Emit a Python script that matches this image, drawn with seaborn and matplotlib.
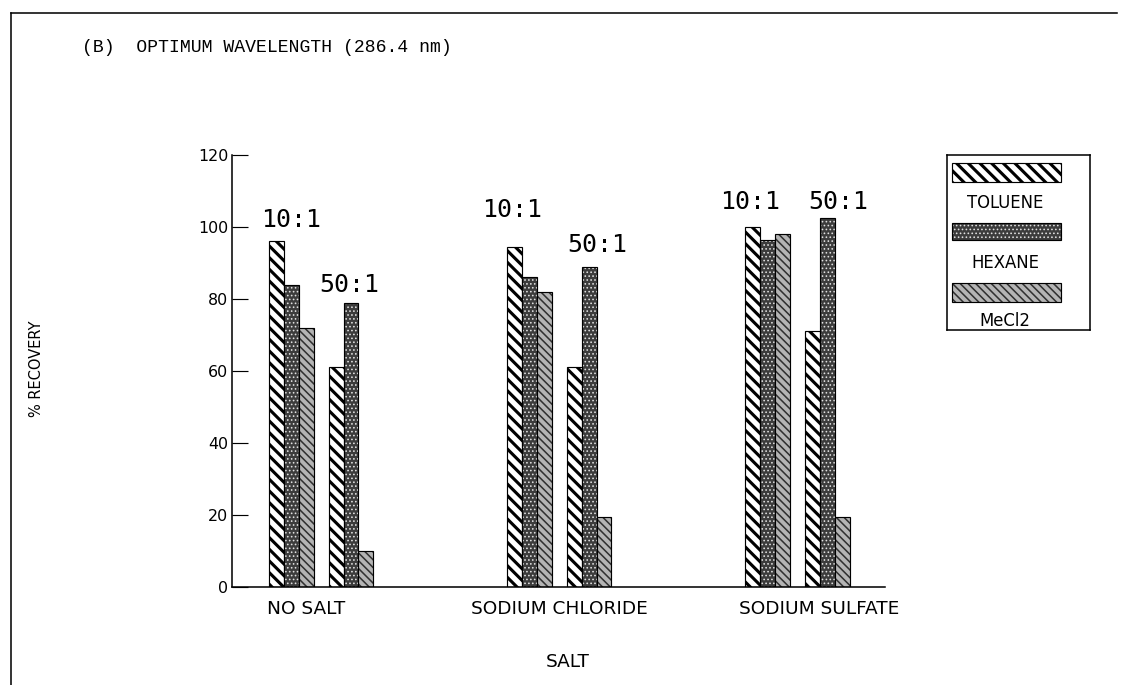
import matplotlib
matplotlib.use("Agg")
import matplotlib.pyplot as plt
from matplotlib.patches import Rectangle
from matplotlib.lines import Line2D
from matplotlib.colors import to_rgba
import seaborn as sns
import pandas as pd

salts = ["NO SALT", "SODIUM CHLORIDE", "SODIUM SULFATE"]
ratios = ["10:1", "50:1"]
solvents = ["TOLUENE", "HEXANE", "MeCl2"]

# % recovery, order: (no salt 10:1, 50:1), (NaCl 10:1, 50:1), (Na2SO4 10:1, 50:1)
toluene = [96, 61, 94.5, 61, 100, 71]
hexane = [84, 79, 86, 89, 96.5, 102.5]
mecl2 = [72, 10, 82, 19.5, 98, 19.5]

yticks = [0, 20, 40, 60, 80, 100, 120]

# layout: x slot of each ratio group (gaps between salts)
slots = [0, 1, 4, 5, 8, 9]
salt_label_x = [0.24, 4.5, 8.87]
ratio_label_x = [0.0, 0.97, 3.71, 5.13, 7.7, 9.18]
ratio_label_y = [102, 84, 104.7, 95, 107, 107]

# face, hatch, hatch colour, hatch linewidth
styles = {
    "TOLUENE": ("white", "\\" * 4, "black", 1.6),
    "HEXANE": ("#3c3c3c", "." * 6, "#e0e0e0", 0.5),
    "MeCl2": ("#b4b4b4", "\\" * 6, "#303030", 0.8),
}

rows = []
for vals, name in zip([toluene, hexane, mecl2], solvents):
    for s, v in zip(slots, vals):
        rows.append({"slot": s, "solvent": name, "value": v})
df = pd.DataFrame(rows)

DPI = 140
fig = plt.figure(figsize=(1122 / DPI, 685 / DPI), dpi=DPI)
ax = fig.add_axes([232 / 1122, 1 - 587 / 685, 653 / 1122, 432 / 685])


def style_patch(p, name):
    face, hatch, hcol, hlw = styles[name]
    p.set_facecolor(face)
    p.set_edgecolor("black")
    p.set_linewidth(0.6)
    p.set_hatch(hatch)
    p._hatch_color = to_rgba(hcol)
    if hasattr(p, "set_hatch_linewidth"):
        p.set_hatch_linewidth(hlw)
    else:
        p._hatch_linewidth = hlw


sns.barplot(data=df, x="slot", y="value", hue="solvent", hue_order=solvents,
            native_scale=True, width=0.75, dodge=True, errorbar=None,
            legend=False, saturation=1, ax=ax)

for cont, name in zip(ax.containers, solvents):
    for bar in cont:
        style_patch(bar, name)

ax.set_xlim(-1.0, 9.97)
ax.set_ylim(0, 120)
ax.set_yticks(yticks)
ax.set_yticklabels([str(t) for t in yticks], fontsize=8.2)
ax.set_xticks(salt_label_x)
ax.set_xticklabels(salts, fontsize=9.5)
ax.tick_params(axis="y", direction="in", length=8.2, width=0.6, pad=2)
ax.tick_params(axis="x", length=0, pad=6.5)
ax.set_xlabel("")
ax.set_ylabel("")
for side in ["top", "right"]:
    ax.spines[side].set_visible(False)
for side in ["left", "bottom"]:
    ax.spines[side].set_linewidth(0.8)

for x, y, t in zip(ratio_label_x, ratio_label_y, ratios * 3):
    ax.text(x, y, t, ha="center", va="center", fontsize=12.8,
            family="DejaVu Sans Mono")

fig.text(82 / 1122, 1 - 47 / 685, "(B)  OPTIMUM WAVELENGTH (286.4 nm)",
         ha="left", va="center", fontsize=9.3, family="Liberation Mono")
fig.text(36 / 1122, 1 - 369 / 685, "% RECOVERY", rotation=90,
         ha="center", va="center", fontsize=7.5)
fig.text(568 / 1122, 1 - 662 / 685, "SALT", ha="center", va="center",
         fontsize=9.5)

# legend box with labels under the swatches
lax = fig.add_axes([947 / 1122, 1 - 330 / 685, 143 / 1122, 175 / 685])
lax.set_xlim(0, 1)
lax.set_ylim(0, 1)
lax.set_xticks([])
lax.set_yticks([])
for sp in lax.spines.values():
    sp.set_linewidth(0.8)
sw_y = [0.846, 0.514, 0.16]
sw_h = [0.108, 0.097, 0.109]
txt_y = [0.726, 0.383, 0.051]
for name, y0, h, ty in zip(solvents, sw_y, sw_h, txt_y):
    r = Rectangle((0.035, y0), 0.765, h, transform=lax.transAxes)
    lax.add_patch(r)
    style_patch(r, name)
    lax.text(0.405, ty, name, ha="center", va="center", fontsize=8.5,
             transform=lax.transAxes)

# scanned page frame
fig.add_artist(Line2D([11 / 1122, 11 / 1122], [0, 1 - 12.5 / 685],
                      transform=fig.transFigure, color="black", lw=0.8))
fig.add_artist(Line2D([11 / 1122, 1117 / 1122], [1 - 12.5 / 685, 1 - 12.5 / 685],
                      transform=fig.transFigure, color="black", lw=0.8))

fig.savefig("out.png", dpi=DPI)
